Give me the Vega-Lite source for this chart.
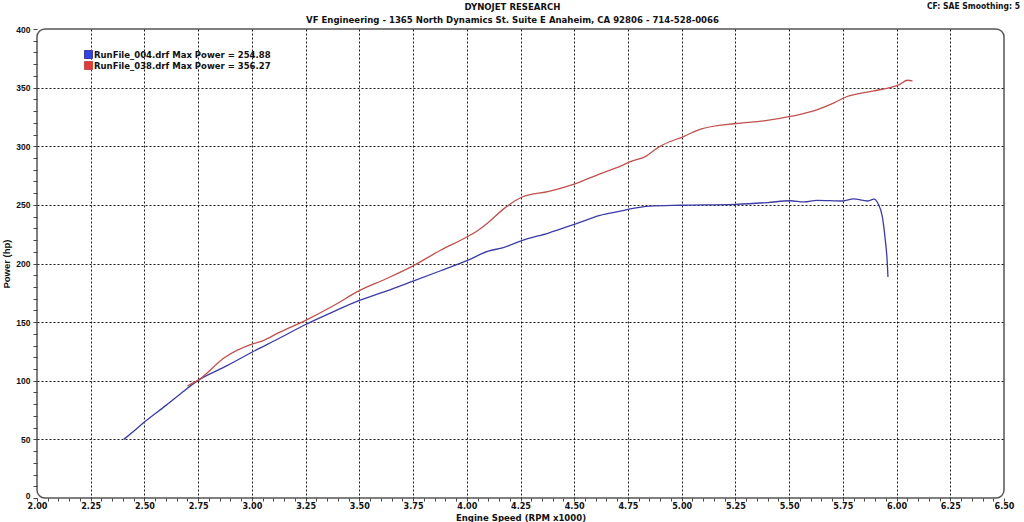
{
  "$schema": "https://vega.github.io/schema/vega-lite/v6.json",
  "width": 967,
  "height": 469,
  "autosize": "none",
  "padding": {"left": 37, "top": 29, "right": 20, "bottom": 24},
  "background": "#ffffff",
  "config": {
    "view": {"stroke": "#555555", "strokeWidth": 1.5, "cornerRadius": 8},
    "font": "Liberation Sans"
  },
  "title": {
    "text": "DYNOJET RESEARCH",
    "subtitle": "VF Engineering - 1365 North Dynamics St. Suite E Anaheim, CA 92806 - 714-528-0066",
    "anchor": "middle",
    "frame": "group",
    "dx": -8,
    "offset": -22,
    "font": "DejaVu Sans Condensed",
    "fontSize": 9.5,
    "fontWeight": "bold",
    "color": "#111111",
    "subtitleFont": "DejaVu Sans Condensed",
    "subtitleFontSize": 9.5,
    "subtitleFontWeight": "bold",
    "subtitleColor": "#111111",
    "subtitlePadding": 3
  },
  "layer": [
    {
      "data": {
        "values": [
          {"run": "RunFile_004.drf Max Power = 254.88", "rpm": 2.404, "hp": 50},
          {"run": "RunFile_004.drf Max Power = 254.88", "rpm": 2.45, "hp": 57},
          {"run": "RunFile_004.drf Max Power = 254.88", "rpm": 2.50, "hp": 64.8},
          {"run": "RunFile_004.drf Max Power = 254.88", "rpm": 2.60, "hp": 79},
          {"run": "RunFile_004.drf Max Power = 254.88", "rpm": 2.668, "hp": 89},
          {"run": "RunFile_004.drf Max Power = 254.88", "rpm": 2.75, "hp": 100.3},
          {"run": "RunFile_004.drf Max Power = 254.88", "rpm": 2.875, "hp": 112},
          {"run": "RunFile_004.drf Max Power = 254.88", "rpm": 3.00, "hp": 124.3},
          {"run": "RunFile_004.drf Max Power = 254.88", "rpm": 3.125, "hp": 136},
          {"run": "RunFile_004.drf Max Power = 254.88", "rpm": 3.25, "hp": 148},
          {"run": "RunFile_004.drf Max Power = 254.88", "rpm": 3.375, "hp": 158.6},
          {"run": "RunFile_004.drf Max Power = 254.88", "rpm": 3.50, "hp": 168.6},
          {"run": "RunFile_004.drf Max Power = 254.88", "rpm": 3.625, "hp": 176.5},
          {"run": "RunFile_004.drf Max Power = 254.88", "rpm": 3.75, "hp": 185},
          {"run": "RunFile_004.drf Max Power = 254.88", "rpm": 3.875, "hp": 193.6},
          {"run": "RunFile_004.drf Max Power = 254.88", "rpm": 4.00, "hp": 202.4},
          {"run": "RunFile_004.drf Max Power = 254.88", "rpm": 4.10, "hp": 210.5},
          {"run": "RunFile_004.drf Max Power = 254.88", "rpm": 4.17, "hp": 213.6},
          {"run": "RunFile_004.drf Max Power = 254.88", "rpm": 4.26, "hp": 219.8},
          {"run": "RunFile_004.drf Max Power = 254.88", "rpm": 4.38, "hp": 226},
          {"run": "RunFile_004.drf Max Power = 254.88", "rpm": 4.51, "hp": 234},
          {"run": "RunFile_004.drf Max Power = 254.88", "rpm": 4.62, "hp": 241},
          {"run": "RunFile_004.drf Max Power = 254.88", "rpm": 4.72, "hp": 244.8},
          {"run": "RunFile_004.drf Max Power = 254.88", "rpm": 4.76, "hp": 246.5},
          {"run": "RunFile_004.drf Max Power = 254.88", "rpm": 4.85, "hp": 249},
          {"run": "RunFile_004.drf Max Power = 254.88", "rpm": 5.00, "hp": 249.7},
          {"run": "RunFile_004.drf Max Power = 254.88", "rpm": 5.25, "hp": 250.5},
          {"run": "RunFile_004.drf Max Power = 254.88", "rpm": 5.40, "hp": 252},
          {"run": "RunFile_004.drf Max Power = 254.88", "rpm": 5.505, "hp": 253.5},
          {"run": "RunFile_004.drf Max Power = 254.88", "rpm": 5.57, "hp": 252.5},
          {"run": "RunFile_004.drf Max Power = 254.88", "rpm": 5.63, "hp": 253.9},
          {"run": "RunFile_004.drf Max Power = 254.88", "rpm": 5.75, "hp": 253.3},
          {"run": "RunFile_004.drf Max Power = 254.88", "rpm": 5.80, "hp": 255.2},
          {"run": "RunFile_004.drf Max Power = 254.88", "rpm": 5.864, "hp": 253.3},
          {"run": "RunFile_004.drf Max Power = 254.88", "rpm": 5.895, "hp": 254.9},
          {"run": "RunFile_004.drf Max Power = 254.88", "rpm": 5.914, "hp": 251},
          {"run": "RunFile_004.drf Max Power = 254.88", "rpm": 5.934, "hp": 239.7},
          {"run": "RunFile_004.drf Max Power = 254.88", "rpm": 5.946, "hp": 222.6},
          {"run": "RunFile_004.drf Max Power = 254.88", "rpm": 5.957, "hp": 200},
          {"run": "RunFile_004.drf Max Power = 254.88", "rpm": 5.96, "hp": 188.5},
          {"run": "RunFile_038.drf Max Power = 356.27", "rpm": 2.70, "hp": 95.5},
          {"run": "RunFile_038.drf Max Power = 356.27", "rpm": 2.75, "hp": 100.5},
          {"run": "RunFile_038.drf Max Power = 356.27", "rpm": 2.875, "hp": 120},
          {"run": "RunFile_038.drf Max Power = 356.27", "rpm": 3.00, "hp": 131.2},
          {"run": "RunFile_038.drf Max Power = 356.27", "rpm": 3.05, "hp": 134},
          {"run": "RunFile_038.drf Max Power = 356.27", "rpm": 3.125, "hp": 141},
          {"run": "RunFile_038.drf Max Power = 356.27", "rpm": 3.25, "hp": 151.5},
          {"run": "RunFile_038.drf Max Power = 356.27", "rpm": 3.375, "hp": 163.5},
          {"run": "RunFile_038.drf Max Power = 356.27", "rpm": 3.50, "hp": 176.8},
          {"run": "RunFile_038.drf Max Power = 356.27", "rpm": 3.625, "hp": 187},
          {"run": "RunFile_038.drf Max Power = 356.27", "rpm": 3.75, "hp": 198},
          {"run": "RunFile_038.drf Max Power = 356.27", "rpm": 3.878, "hp": 211.3},
          {"run": "RunFile_038.drf Max Power = 356.27", "rpm": 4.00, "hp": 222.6},
          {"run": "RunFile_038.drf Max Power = 356.27", "rpm": 4.05, "hp": 228},
          {"run": "RunFile_038.drf Max Power = 356.27", "rpm": 4.10, "hp": 235},
          {"run": "RunFile_038.drf Max Power = 356.27", "rpm": 4.173, "hp": 246.8},
          {"run": "RunFile_038.drf Max Power = 356.27", "rpm": 4.258, "hp": 256.7},
          {"run": "RunFile_038.drf Max Power = 356.27", "rpm": 4.382, "hp": 261.6},
          {"run": "RunFile_038.drf Max Power = 356.27", "rpm": 4.507, "hp": 268.2},
          {"run": "RunFile_038.drf Max Power = 356.27", "rpm": 4.62, "hp": 276.5},
          {"run": "RunFile_038.drf Max Power = 356.27", "rpm": 4.716, "hp": 283},
          {"run": "RunFile_038.drf Max Power = 356.27", "rpm": 4.758, "hp": 286.6},
          {"run": "RunFile_038.drf Max Power = 356.27", "rpm": 4.833, "hp": 291.4},
          {"run": "RunFile_038.drf Max Power = 356.27", "rpm": 4.894, "hp": 299.4},
          {"run": "RunFile_038.drf Max Power = 356.27", "rpm": 5.011, "hp": 308.5},
          {"run": "RunFile_038.drf Max Power = 356.27", "rpm": 5.089, "hp": 314.6},
          {"run": "RunFile_038.drf Max Power = 356.27", "rpm": 5.25, "hp": 319.4},
          {"run": "RunFile_038.drf Max Power = 356.27", "rpm": 5.383, "hp": 321.6},
          {"run": "RunFile_038.drf Max Power = 356.27", "rpm": 5.511, "hp": 325.6},
          {"run": "RunFile_038.drf Max Power = 356.27", "rpm": 5.632, "hp": 331.3},
          {"run": "RunFile_038.drf Max Power = 356.27", "rpm": 5.709, "hp": 337},
          {"run": "RunFile_038.drf Max Power = 356.27", "rpm": 5.764, "hp": 342},
          {"run": "RunFile_038.drf Max Power = 356.27", "rpm": 5.888, "hp": 347},
          {"run": "RunFile_038.drf Max Power = 356.27", "rpm": 6.015, "hp": 352.8},
          {"run": "RunFile_038.drf Max Power = 356.27", "rpm": 6.051, "hp": 356.3},
          {"run": "RunFile_038.drf Max Power = 356.27", "rpm": 6.074, "hp": 355.7}
        ]
      },
      "mark": {"type": "line", "strokeWidth": 1.3, "interpolate": "monotone"},
      "encoding": {
        "x": {
          "field": "rpm",
          "type": "quantitative",
          "scale": {"domain": [2, 6.5], "nice": false, "zero": false},
          "axis": {
            "title": "Engine Speed (RPM x1000)",
            "titleFont": "DejaVu Sans Condensed",
            "titleFontSize": 9.5,
            "titleFontWeight": "bold",
            "titleColor": "#111111",
            "titleBaseline": "alphabetic",
            "titleY": 22,
            "tickCount": 500,
            "values": [2.0,2.05,2.1,2.15,2.2,2.25,2.3,2.35,2.4,2.45,2.5,2.55,2.6,2.65,2.7,2.75,2.8,2.85,2.9,2.95,3.0,3.05,3.1,3.15,3.2,3.25,3.3,3.35,3.4,3.45,3.5,3.55,3.6,3.65,3.7,3.75,3.8,3.85,3.9,3.95,4.0,4.05,4.1,4.15,4.2,4.25,4.3,4.35,4.4,4.45,4.5,4.55,4.6,4.65,4.7,4.75,4.8,4.85,4.9,4.95,5.0,5.05,5.1,5.15,5.2,5.25,5.3,5.35,5.4,5.45,5.5,5.55,5.6,5.65,5.7,5.75,5.8,5.85,5.9,5.95,6.0,6.05,6.1,6.15,6.2,6.25,6.3,6.35,6.4,6.45,6.5],
            "labelExpr": "abs(datum.value*4-round(datum.value*4))<0.01 ? format(datum.value,'.2f') : ''",
            "labelOverlap": false,
            "labelFlush": false,
            "labelBound": false,
            "labelFont": "DejaVu Sans Condensed",
            "labelFontSize": 9,
            "labelFontWeight": "bold",
            "labelColor": "#111111",
            "labelPadding": 0,
            "domain": false,
            "ticks": true,
            "tickSize": 3,
            "tickColor": "#444444",
            "grid": true,
            "gridColor": "#000000",
            "gridDash": [2, 2],
            "gridWidth": 1,
            "gridOpacity": {"condition": {"test": "abs(datum.value*4-round(datum.value*4))<0.01 && datum.value>2.01 && datum.value<6.49", "value": 0.9}, "value": 0}
          }
        },
        "y": {
          "field": "hp",
          "type": "quantitative",
          "scale": {"domain": [0, 400], "nice": false},
          "axis": {
            "title": "Power (hp)",
            "titleFont": "Liberation Sans",
            "titleFontSize": 9.5,
            "titleFontWeight": "bold",
            "titleColor": "#111111",
            "titlePadding": 4,
            "tickCount": 500,
            "values": [0,10,20,30,40,50,60,70,80,90,100,110,120,130,140,150,160,170,180,190,200,210,220,230,240,250,260,270,280,290,300,310,320,330,340,350,360,370,380,390,400],
            "labelExpr": "datum.value % 50 === 0 ? datum.label : ''",
            "labelOverlap": false,
            "labelBound": false,
            "labelFlush": false,
            "labelOffset": {"condition": {"test": "datum.value === 0", "value": -3}, "value": 0},
            "labelFont": "Liberation Sans",
            "labelFontSize": 8.5,
            "labelFontWeight": "bold",
            "labelColor": "#111111",
            "labelPadding": 3,
            "domain": false,
            "tickSize": 4,
            "tickColor": "#444444",
            "grid": true,
            "gridColor": "#000000",
            "gridDash": [2, 2],
            "gridWidth": 1,
            "gridOpacity": {"condition": {"test": "datum.value % 50 === 0 && datum.value > 0 && datum.value < 400", "value": 0.9}, "value": 0}
          }
        },
        "color": {
          "field": "run",
          "type": "nominal",
          "scale": {"domain": ["RunFile_004.drf Max Power = 254.88", "RunFile_038.drf Max Power = 356.27"], "range": ["#3b3ba6", "#c0504e"]},
          "legend": {
            "title": null,
            "orient": "none",
            "legendX": 47,
            "legendY": 21,
            "symbolType": "square",
            "symbolSize": 64,
            "symbolStrokeWidth": 1,
            "labelFont": "DejaVu Sans",
            "labelFontSize": 8.5,
            "labelFontWeight": "bold",
            "labelColor": "#111111",
            "labelOffset": 1,
            "labelLimit": 400,
            "rowPadding": -4,
            "padding": 0,
            "encode": {
              "symbols": {
                "update": {
                  "fill": {"signal": "indexof(datum.value,'004')>=0 ? '#3344e0' : '#e03a3a'"},
                  "stroke": {"value": "#333333"},
                  "fillOpacity": {"value": 1}
                }
              }
            }
          }
        }
      }
    },
    {
      "data": {"values": [{"note": "CF: SAE  Smoothing: 5"}]},
      "mark": {"type": "text", "align": "right", "baseline": "middle", "dx": 16, "dy": -23, "font": "DejaVu Sans Condensed", "fontSize": 8.5, "fontWeight": "bold", "color": "#111111"},
      "encoding": {
        "x": {"datum": 6.5, "type": "quantitative"},
        "y": {"datum": 400, "type": "quantitative"},
        "text": {"field": "note", "type": "nominal"}
      }
    }
  ]
}
